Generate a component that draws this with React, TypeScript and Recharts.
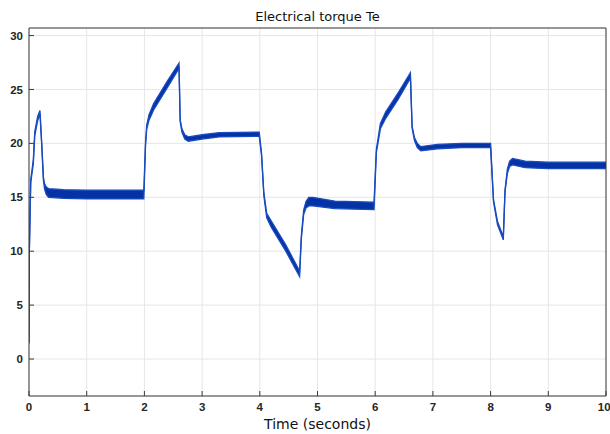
import {
  ComposedChart, Area, XAxis, YAxis, CartesianGrid, Label,
} from 'recharts'

// time axis (s), torque centre line and ripple band width
const time = [
  0, 0.006, 0.03, 0.075, 0.1, 0.15, 0.19, 0.22, 0.25, 0.27, 0.3, 0.34, 0.6, 1.0, 1.5, 1.99,
  2.02, 2.04, 2.08, 2.16, 2.4, 2.6, 2.62, 2.65, 2.7, 2.76, 3.0, 3.3, 3.99,
  4.03, 4.07, 4.12, 4.2, 4.45, 4.69, 4.72, 4.76, 4.8, 4.85, 4.92, 5.3, 5.98,
  6.02, 6.09, 6.18, 6.4, 6.61, 6.64, 6.68, 6.73, 6.79, 7.08, 7.5, 8.0,
  8.05, 8.12, 8.22, 8.25, 8.29, 8.33, 8.38, 8.6, 9.0, 10,
]
const torque = [
  1.5, 10, 16.5, 18.3, 20.9, 22.3, 22.9, 20, 16.7, 16.0, 15.6, 15.4, 15.3, 15.25, 15.25, 15.25,
  20, 21.5, 22.4, 23.4, 25.5, 27.2, 22.1, 21.2, 20.6, 20.4, 20.6, 20.8, 20.85,
  19, 15.3, 13.3, 12.5, 10.3, 7.9, 11.3, 13.6, 14.3, 14.6, 14.6, 14.3, 14.2,
  19.3, 21.6, 22.6, 24.4, 26.3, 21.5, 20.4, 19.8, 19.5, 19.7, 19.8, 19.8,
  14.7, 12.6, 11.2, 15.6, 17.4, 18.1, 18.3, 18.05, 17.95, 17.95,
]
const ripple = [
  0.1, 0.2, 0.3, 0.4, 0.4, 0.4, 0.3, 0.2, 0.3, 0.5, 0.7, 0.8, 0.8, 0.8, 0.8, 0.8,
  0.3, 0.4, 0.5, 0.6, 0.6, 0.5, 0.2, 0.3, 0.4, 0.4, 0.4, 0.4, 0.4,
  0.2, 0.3, 0.4, 0.6, 0.6, 0.5, 0.3, 0.4, 0.6, 0.8, 0.8, 0.7, 0.7,
  0.3, 0.5, 0.6, 0.6, 0.5, 0.2, 0.3, 0.4, 0.4, 0.4, 0.4, 0.4,
  0.2, 0.3, 0.3, 0.2, 0.4, 0.5, 0.6, 0.6, 0.6, 0.6,
]

const xTicks = [0, 1, 2, 3, 4, 5, 6, 7, 8, 9, 10]
const yTicks = [0, 5, 10, 15, 20, 25, 30]

const data = time.map((t, i) => ({
  t,
  band: [torque[i] - ripple[i] / 2, torque[i] + ripple[i] / 2],
}))

const tickFont = { fontFamily: 'Liberation Sans', fontWeight: 'bold', fontSize: 11.5, fill: '#262626' }
const axisColor = '#3a3a3a'
const yDomain = [-3.43, 30.7]

export default function App() {
  return (
    <div style={{ width: 610, height: 434, background: '#fff' }}>
      <style>{'body{margin:0}'}</style>
      <ComposedChart
        width={610}
        height={434}
        data={data}
        margin={{ top: 27, right: 3, bottom: 0, left: 0 }}
      >
        <CartesianGrid stroke="#e6e6e6" />
        <XAxis
          dataKey="t"
          type="number"
          domain={[0, 10]}
          ticks={xTicks}
          height={38}
          tick={tickFont}
          tickSize={-5}
          tickMargin={12}
          stroke={axisColor}
          allowDataOverflow
        >
          <Label
            value="Time (seconds)"
            position="insideBottom"
            offset={5}
            style={{ fontFamily: 'DejaVu Sans', fontSize: 14, fill: '#111' }}
          />
        </XAxis>
        <XAxis
          xAxisId="top"
          orientation="top"
          dataKey="t"
          type="number"
          domain={[0, 10]}
          ticks={xTicks}
          height={1}
          tick={false}
          tickSize={-5}
          stroke={axisColor}
          allowDataOverflow
        >
          <Label
            value="Electrical torque Te"
            position="top"
            offset={6}
            style={{ fontFamily: 'DejaVu Sans', fontSize: 13, fill: '#111' }}
          />
        </XAxis>
        <YAxis
          type="number"
          domain={yDomain}
          ticks={yTicks}
          width={29}
          tick={tickFont}
          tickSize={-5}
          tickMargin={11}
          stroke={axisColor}
          allowDataOverflow
        />
        <YAxis
          yAxisId="right"
          orientation="right"
          type="number"
          domain={yDomain}
          ticks={yTicks}
          width={1}
          tick={false}
          tickSize={-5}
          stroke={axisColor}
          allowDataOverflow
        />
        <Area
          xAxisId="top"
          yAxisId="right"
          type="linear"
          dataKey="band"
          stroke="none"
          fill="none"
          isAnimationActive={false}
          dot={false}
          activeDot={false}
        />
        <Area
          type="linear"
          dataKey="band"
          stroke="#1a4cc0"
          strokeWidth={1.3}
          fill="#0533a5"
          fillOpacity={1}
          isAnimationActive={false}
          dot={false}
          activeDot={false}
        />
      </ComposedChart>
    </div>
  )
}
